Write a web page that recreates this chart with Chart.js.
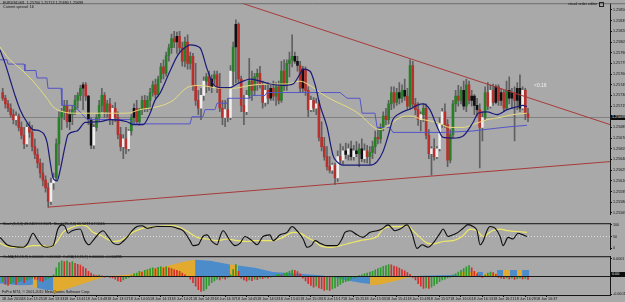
<!DOCTYPE html>
<html>
<head>
<meta charset="utf-8">
<script src="https://cdn.jsdelivr.net/npm/chart.js@4.4.1/dist/chart.umd.min.js"></script>
<style>
  html, body { margin: 0; padding: 0; background: #a9a9a9; }
  #wrap { position: relative; width: 625px; height: 302px; overflow: hidden; background: #a9a9a9;
          font-family: 'Liberation Sans', Arial, sans-serif; }
  #wrap canvas { position: absolute; left: 0; }
  .txt { position: absolute; font-size: 3.7px; line-height: 4px; color: #111; white-space: pre; }
  .box { position: absolute; left: 611px; width: 14px; height: 5px; background: #0c0c0c; color: #eee;
         font-size: 3.7px; line-height: 5px; padding-left: 1px; white-space: pre; }
  .icon { position: absolute; left: 599px; top: 2px; width: 3px; height: 3px; border: 1px solid #222; }
</style>
</head>
<body>
<div id="wrap">
  <canvas id="mainChart" width="625" height="218" style="top:0"></canvas>
  <canvas id="stochChart" width="625" height="33" style="top:220px"></canvas>
  <canvas id="osmaChart" width="625" height="49" style="top:253px"></canvas>

  <div class="txt" style="left:3px;top:1px">EURUSD,M1  1.25700 1.25713 1.25690 1.25699</div>
  <div class="txt" style="left:3px;top:5px">Current spread: 16</div>
  <div class="txt" style="left:568px;top:2px">visual order editor</div>
  <div class="icon"></div>
  <div class="txt" style="left:534px;top:83px;color:#f2f2f2;font-size:5px">&lt;0.16</div>
  <div class="box" style="top:115px">1.25699</div>
  <div class="txt" style="left:3px;top:222px">Stoch(5,3,3) 49.2409 57.8071  Stoch(25,3,3) 66.5277 67.5565</div>
  <div class="txt" style="left:3px;top:255px">OsMA(12,26,9) 0.000000 0.000002  OsMA(12,26,9) 0.000000 -0.000295</div>
  <div class="box" style="top:272px">0.00</div>
  <div class="txt" style="left:2px;top:290px">FxPro MT4, © 2001-2015 MetaQuotes Software Corp.</div>
</div>

<script>
// prices are in points (0.00001) above 1.25000, one candle per minute from 13:18
const BASE = 1.25;

const openPts = [734,726,718,712,703,696,701,685,674,662,685,678,658,647,635,621,611,600,581,607,
  614,662,699,707,716,693,703,710,723,730,740,745,729,696,660,685,699,716,730,707,
  718,696,712,699,675,658,669,655,680,699,712,693,710,723,712,723,734,745,731,753,
  770,761,786,797,810,805,813,797,778,805,775,785,744,723,712,730,750,756,742,753,
  759,740,712,699,710,699,764,798,830,753,716,707,730,750,737,756,761,745,720,737,
  726,740,729,742,723,764,744,775,780,785,778,772,740,767,737,710,723,712,718,671,
  658,644,630,625,632,614,644,639,652,647,655,644,652,648,655,641,652,644,650,658,
  671,669,685,701,696,718,734,720,734,726,737,729,715,772,718,710,696,703,712,674,
  648,655,644,655,690,707,689,639,675,718,729,723,737,715,745,723,729,716,710,685,
  699,734,715,737,720,742,723,734,712,737,726,734,723,740,712,737,704];
const highPts = [740,730,723,718,710,707,704,693,685,690,693,688,669,655,641,635,617,607,614,621,
  669,707,712,723,723,710,716,730,734,744,748,748,730,699,689,703,723,740,734,723,
  726,716,720,707,685,675,685,682,703,718,723,712,729,730,729,740,750,753,757,775,
  780,791,802,816,820,819,820,805,812,815,791,789,775,737,740,756,761,764,759,764,
  764,761,723,723,726,772,805,836,832,757,730,737,782,764,761,767,771,750,744,748,
  745,750,748,750,778,780,780,791,815,791,785,778,771,770,742,729,727,726,723,693,
  671,658,644,635,635,652,662,658,663,662,666,660,665,662,669,662,660,658,666,680,
  685,690,707,712,723,742,742,740,748,745,753,740,780,778,726,720,707,718,718,682,
  658,669,658,699,712,718,696,682,723,737,744,742,750,753,750,737,731,726,718,707,
  742,748,745,746,745,745,740,737,750,756,740,742,748,759,742,740,712];
const lowPts = [723,712,707,699,690,688,680,669,655,658,671,652,641,628,614,603,594,573,577,598,
  611,632,682,696,685,682,689,703,712,723,710,723,689,655,655,680,693,707,699,699,
  689,689,693,669,652,641,648,652,674,690,689,688,703,707,707,710,729,726,729,748,
  753,757,778,789,797,789,791,771,770,767,767,737,716,703,696,723,734,737,734,745,
  734,707,689,686,693,696,745,748,748,707,689,703,726,723,730,737,740,712,715,718,
  723,723,716,718,720,737,737,756,770,775,764,734,734,730,700,707,707,703,666,652,
  639,625,621,620,605,609,633,633,641,639,639,639,644,630,637,636,635,633,641,648,
  662,663,680,689,690,710,712,716,718,720,723,710,710,712,703,688,680,693,669,641,
  618,639,641,652,685,685,630,635,671,707,715,718,710,707,718,715,703,701,628,666,
  696,710,712,716,718,716,716,707,710,718,712,666,710,707,710,696,693];
const closePts = [726,718,712,703,696,701,685,674,662,685,678,658,647,635,621,611,600,581,607,614,
  662,699,707,716,693,703,710,723,730,740,745,729,696,660,685,699,716,730,707,718,
  696,712,699,675,658,669,655,680,699,712,693,710,723,712,723,734,745,731,753,770,
  761,786,797,810,805,813,797,778,805,775,785,744,723,712,730,750,756,742,753,759,
  740,712,699,710,699,764,798,830,753,716,707,730,750,737,756,761,745,720,737,726,
  740,729,742,723,764,744,775,780,785,778,772,740,767,737,710,723,712,718,671,658,
  644,630,625,632,614,644,639,652,647,655,644,652,648,655,641,652,644,650,658,671,
  669,685,701,696,718,734,720,734,726,737,729,715,772,718,710,696,703,712,674,648,
  655,644,655,690,707,689,639,675,718,729,723,737,715,745,723,729,716,710,685,699,
  734,715,737,720,742,723,734,712,737,726,734,723,740,712,737,704,699];
// candle paint: g green, r red, k black, w white
const candleKind = ('rrrrrwrrrw' + 'rrrrrrrrww' + 'ggggrkgggg' + 'krkkwgggrg' + 'rwrrrwrwgk' +
  'rggrgggrgg' + 'rgggrkrrgr' + 'grrrwwgrkg' + 'rrrwrwgkrr' + 'rwgrggrrwr' +
  'krgrgrgggk' + 'krkrrwrwrr' + 'rrrwrwrwkw' + 'kwkgkwrggg' + 'rggrggrgkg' +
  'krgrrrwgrr' + 'wrwwwrrggg' + 'rgkgrkkkrw' + 'grwrkrkrgk' + 'krkkwrr').split('');

// indicator lines as [bar, value]
const maFast = [[-1,794],[0.9,775],[2.7,753],[4.6,730],[6.5,710],[9.1,692],[11.3,682],[13.9,680],[16.5,665],
  [17.7,637],[18.8,614],[20.3,610],[21.4,624],[23.3,659],[24.4,675],[27.7,680],[30.8,692],[36.3,693],[40,696],
  [46.4,693],[48.6,689],[52.4,689],[55,705],[56.8,723],[58.7,733],[62.4,764],[65.4,787],[67.3,795],[69.9,801],
  [73.6,797],[76.2,768],[78.5,746],[81.1,741],[84.8,741],[87.4,746],[89.7,750],[92.3,753],[96,750],[99.7,746],
  [104.6,744],[108.3,746],[110.9,760],[112.1,767],[114.7,764],[116.5,746],[118.4,716],[121,686],[123.3,645],
  [124.7,637],[127,632],[132.2,632],[137.1,632],[139.7,637],[141.9,651],[143.8,673],[145.6,696],[148.3,705],
  [152,711],[154.6,716],[156.8,718],[159.4,710],[162.1,686],[164.3,671],[168,670],[171.8,673],[175.5,692],
  [177.4,705],[180.7,707],[184.4,703],[188.2,710],[191.9,714],[194.1,716],[195.6,714]];
const maSlow = [[-1,798],[2.7,780],[6.5,768],[11.3,750],[16.5,726],[18.8,714],[22.5,707],[27.7,705],[33.7,705],
  [40,705],[46.4,705],[51.2,710],[58.7,715],[63.6,723],[68.8,741],[73.6,744],[77.4,742],[81.1,740],[86,740],
  [92.3,744],[98.6,746],[106.1,746],[110.9,750],[114.7,744],[118.4,734],[123.3,723],[128.5,714],[133.3,703],
  [138.2,686],[140.8,682],[143.4,686],[148.3,699],[152,701],[156.8,696],[162.1,692],[166.9,685],[171.8,685],
  [175.5,689],[180.7,696],[185.6,699],[190.4,703],[195.6,705]];
const midLine = [[-1,780],[1.6,780],[2,774],[8,774],[8.3,765],[12.4,765],[12.8,754.5],[16.5,754.5],[16.9,740],
  [21.8,740],[22.1,716],[26.6,716],[31.5,696],[47.5,696],[48.6,690],[69.9,690],[70.6,700],[74.7,700],[75.5,710],
  [79.2,710],[80,719],[83.7,719],[84.1,726],[92.3,726],[93,730],[97.9,730],[98.6,734],[125.9,734],[128.5,726],
  [133.3,726],[134.1,705],[138.9,705],[139.7,685],[144.5,685],[145.6,678],[164.3,678],[175.5,680],[184.4,684],
  [189.3,686],[195.6,688]];
const trendUpper = [[88,861.1],[226.6,689]];
const trendLower = [[16.9,573],[226.6,637]];
const priceTicks = [565,580,595,610,625,640,655,670,685,700,715,730,745,760,775,790,805,820,835,850];

const stochMain = [[-1,46.5],[0.1,32.5],[1.6,15],[3.9,8],[7.6,4.5],[9.4,22],[11.3,64],[12.8,39.5],[14.7,11.5],
  [16.5,4.5],[18.8,11.5],[20.6,81.5],[22.1,99],[23.3,92],[24.4,64],[25.9,74.5],[28.9,81.5],[30.7,32.5],[32.2,15],
  [33.7,32.5],[36.3,67.5],[37.4,74.5],[39.3,50],[41.2,22],[43,15],[44.9,29],[46.4,46.5],[48.3,74.5],[50.1,92],
  [52,95.5],[53.9,85],[55.7,88.5],[57.6,92],[59.8,92],[62.4,92],[65,85],[67.3,74.5],[69.9,32.5],[71,11.5],
  [72.9,15],[74.7,50],[76.2,57],[78.1,29],[80,15],[81.1,50],[82.2,74.5],[84.8,32.5],[86.7,11.5],[88.6,22],
  [90.4,50],[93,32.5],[94.9,15],[97.1,50],[99.7,57],[100.9,32.5],[103.5,57],[106.1,67.5],[108,92],[109.8,74.5],
  [112.1,39.5],[113.6,4.5],[115.4,15],[116.5,32.5],[118.4,22],[121,11.5],[124.7,11.5],[126.6,39.5],[127.7,67.5],
  [129.6,74.5],[132.2,57],[134.4,46.5],[137.1,67.5],[139.7,74.5],[141.5,81.5],[143.8,99],[146.4,74.5],[148.3,81.5],
  [150.9,99],[152.7,64],[154.6,0],[156.5,15],[158.7,4.5],[160.6,22],[163.2,64],[164.3,81.5],[166.2,50],[168,57],
  [169.9,67.5],[171.8,85],[173.6,100],[175.5,92],[177,74.5],[178.1,15],[179.2,29],[180.7,74.5],[181.8,92],
  [183.7,85],[185.6,50],[186.7,11.5],[188.6,46.5],[190.4,39.5],[192.3,64],[194.1,57],[195.6,50]];
const stochSlow = [[-1,22],[0.9,11.5],[3.9,4.5],[7.6,4.5],[11.3,11.5],[15,11.5],[17.7,4.5],[20.3,29],[22.5,67.5],
  [25.1,85],[29.6,99],[31.5,92],[33.7,67.5],[36.3,57],[38.9,39.5],[41.2,29],[43.8,32.5],[46.4,50],[48.6,67.5],
  [52.4,85],[57.6,92],[63.6,95.5],[66.9,85],[69.9,64],[72.5,46.5],[76.2,39.5],[80,32.5],[83.7,39.5],[87.4,32.5],
  [91.2,29],[93.4,32.5],[97.1,32.5],[100.9,32.5],[104.6,46.5],[108.3,67.5],[110.9,64],[114.7,39.5],[116.5,29],
  [118.4,11.5],[122.1,4.5],[125.9,11.5],[129.6,22],[133.3,32.5],[137.1,39.5],[139.7,50],[141.9,81.5],[145.3,92],
  [148.3,92],[151.2,95.5],[153.1,74.5],[155.7,46.5],[158.3,22],[160.6,18.5],[164.3,29],[168,32.5],[171.4,50],
  [174.4,81.5],[177,74.5],[179.2,50],[182.6,74.5],[185.6,81.5],[188.2,74.5],[191.9,71],[195.6,67.5]];
const stochTicks = [0, 50, 100];

// OsMA in millionths
const osmaFast = [-30,-45,-50,-40,-35,-45,-30,-25,-35,-20,-15,
  -10,-15,-20,-25,-30,-20,-10,-5,10,
  50,80,89,85,90,80,85,75,70,65,55,45,30,20,10,
  5,8,4,-3,2,-5,-8, -15,-25,-30,-20,-12,
  -5,5,15,20,30,25,35,40,45,50,45,53,55,50,55,50,45,40,35,30,20,10,0,
  -15,-35,-55,-75,-85,-80,-70,-50,-35, -25,-15,-20,-10,-15,-5,10, 40,68,30,
  -10,-20,-26,-20,-24,-15,-18,-10, -12,-6,-10,-4,3, 8,12,10,18,22, 30,37,35,28,15,
  -10,-25,-40,-50,-60,-55,-65,-70,-79,-75,-79,-70,-65,-55,-45,-35, -30,-25,-15,-10,-5,5,10,
  15,20,25,30,38,45,50,58,62,68,66,60,55,48,40,32,22,12,
  -5,-20,-40,-55,-68,-65,-68,-60,-50,-40,-30,-20,-15,-8,-3,
  8,15,25,35,45,55,63,50,30,15, 5,-5, 10,20,26,22,12,
  -5,-10,-12,-8,-14,-10,-16,-12,-8,-14,-11,-16];
const osmaBlue = [[-1,-40],[2.7,-45],[6.5,-50],[10.2,-48],[11.3,-45],[11.4,null],
  [12.8,-65],[15.8,-75],[18.8,-80],[18.9,null],
  [71.8,95],[77.4,90],[84.8,68],[85,null],
  [87.8,63],[94.1,50],[100.9,26],[110.9,16],[118.4,8],[122.1,0],[127.7,-20],[133.3,-35],[137.1,-42],[137.2,null],
  [155.7,5],[169.5,10],[169.6,null],
  [177,26],[179.2,26],[179.3,null],
  [184.4,37],[186.7,37],[186.8,null],
  [189.3,37],[191.9,37],[192,null],
  [193.8,37],[196.5,37]];
const osmaGold = [[11.3,-63],[12.8,-63],[12.9,null],
  [19,-95],[38.2,0],[47.5,12],[53.9,35],[61.3,60],[68,85],[71.8,95],[71.9,null],
  [84.8,68],[87.8,65],[87.9,null],
  [137.1,-50],[140.8,-45],[146.4,-25],[152,-3],[155.7,3],[155.8,null],
  [169.5,26],[177,26],[177.1,null],
  [179.2,16],[184.4,16],[184.5,null],
  [186.7,37],[189.3,37],[189.4,null],
  [191.9,37],[193.8,37]];
const osmaTicks = [-100, 100];

const timeTickPos = [-0.3,7,15,23,31,39,47,55,63,71,79,87,95,103,111,119,127,135,143,151,159,167,175,183,191,199];
const timeTicks = ['18 Jun 2015','18 Jun 13:25','18 Jun 13:33','18 Jun 13:41','18 Jun 13:49','18 Jun 13:57',
  '18 Jun 14:05','18 Jun 14:13','18 Jun 14:21','18 Jun 14:29','18 Jun 14:37','18 Jun 14:45','18 Jun 14:53',
  '18 Jun 15:01','18 Jun 15:09','18 Jun 15:17','18 Jun 15:25','18 Jun 15:33','18 Jun 15:41','18 Jun 15:49',
  '18 Jun 15:57','18 Jun 16:05','18 Jun 16:13','18 Jun 16:21','18 Jun 16:29','18 Jun 16:37'];

const X_MIN = -1, X_MAX = 226.6;
const FONT = "'Liberation Sans', Arial, sans-serif";
const INK = '#151515';
const kindColor = { g: '#277f27', r: '#b8302c', k: '#101010', w: '#eeeeee' };

const toXY = arr => arr.map(([x, y]) => ({ x, y }));

const frame = {
  id: 'frame',
  afterDraw(chart, args, opts) {
    const { ctx, chartArea: a } = chart;
    ctx.save();
    ctx.strokeStyle = opts.color;
    ctx.lineWidth = 1;
    ctx.beginPath();
    ctx.moveTo(0, a.top + 0.5);
    ctx.lineTo(opts.full ? chart.width : a.right, a.top + 0.5);
    ctx.stroke();
    ctx.restore();
  }
};

function xAxis(show) {
  const axis = { type: 'linear', min: X_MIN, max: X_MAX, offset: false, display: show, grid: { display: false } };
  if (show) {
    axis.afterBuildTicks = s => { s.ticks = timeTickPos.map(v => ({ value: v })); };
    axis.afterFit = s => { s.height = 7; };
    axis.ticks = { autoSkip: false, maxRotation: 0, align: 'start', padding: 0,
      font: { size: 3.7, family: FONT }, color: INK, callback: (v, i) => timeTicks[i] };
    axis.grid = { drawOnChartArea: false, drawTicks: true, tickLength: 2, color: INK };
    axis.border = { display: true, color: INK };
  }
  return axis;
}

function rightAxis(min, max, ticks, fmt) {
  return {
    position: 'right', min, max,
    afterBuildTicks: s => { s.ticks = ticks.map(v => ({ value: v })); },
    afterFit: s => { s.width = 15; },
    ticks: { autoSkip: false, padding: 1, font: { size: 3.7, family: FONT }, color: INK, callback: fmt },
    grid: { drawOnChartArea: false, drawTicks: true, tickLength: 2, color: INK },
    border: { display: true, color: INK }
  };
}

const common = {
  responsive: false, animation: false, devicePixelRatio: 1, events: [],
  layout: { padding: 0 },
  plugins: { legend: { display: false }, tooltip: { enabled: false } }
};

const lineSet = (data, color, width, order, extra) => Object.assign({
  type: 'line', data: toXY(data), borderColor: color, borderWidth: width,
  pointRadius: 0, tension: 0, order
}, extra || {});

// main price panel
const lastClose = closePts[closePts.length - 1];
new Chart(document.getElementById('mainChart'), {
  type: 'bar',
  data: {
    datasets: [
      lineSet([[X_MIN, lastClose], [X_MAX, lastClose]], '#808080', 1, 20),
      {
        data: lowPts.map((l, i) => ({ x: i, y: [l, highPts[i]] })),
        backgroundColor: '#606060', barThickness: 1, grouped: false, order: 15
      },
      {
        data: openPts.map((o, i) => ({ x: i, y: [o, closePts[i]] })),
        backgroundColor: candleKind.map(k => kindColor[k]),
        barThickness: 2, grouped: false, order: 12
      },
      lineSet(midLine, '#5555c8', 1, 10),
      lineSet(maSlow, '#e4dc80', 1, 9, { cubicInterpolationMode: 'monotone' }),
      lineSet(maFast, '#1a1a78', 1.2, 8, { cubicInterpolationMode: 'monotone' }),
      lineSet(trendUpper, '#a83a38', 1, 5),
      lineSet(trendLower, '#a83a38', 1, 5)
    ]
  },
  options: Object.assign({}, common, {
    scales: {
      x: xAxis(false),
      y: rightAxis(562.3, 859.5, priceTicks, v => (BASE + v / 1e5).toFixed(5))
    },
    plugins: Object.assign({}, common.plugins, { frame: { color: '#6c6c6c', full: true } })
  }),
  plugins: [frame]
});

// stochastic panel
new Chart(document.getElementById('stochChart'), {
  type: 'line',
  data: {
    datasets: [
      lineSet([[X_MIN, 50], [X_MAX, 50]], '#dcdcdc', 1, 10, { borderDash: [1, 2] }),
      lineSet(stochSlow, '#efe866', 1.2, 6, { cubicInterpolationMode: 'monotone' }),
      lineSet(stochMain, '#0d0d0d', 1.1, 5, { cubicInterpolationMode: 'monotone' })
    ]
  },
  options: Object.assign({}, common, {
    scales: { x: xAxis(false), y: rightAxis(-6, 106, stochTicks, v => String(v)) },
    plugins: Object.assign({}, common.plugins, { frame: { color: '#101010' } })
  }),
  plugins: [frame]
});

// OsMA panel
new Chart(document.getElementById('osmaChart'), {
  type: 'bar',
  data: {
    datasets: [
      lineSet([[X_MIN, 0], [X_MAX, 0]], '#1a1a1a', 1, 1),
      lineSet(osmaBlue, 'rgba(0,0,0,0)', 0, 12, { fill: 'origin', backgroundColor: '#4d8ccb' }),
      lineSet(osmaGold, 'rgba(0,0,0,0)', 0, 11, { fill: 'origin', backgroundColor: '#e3aa30' }),
      {
        data: osmaFast.map((v, i) => ({ x: i, y: v })),
        backgroundColor: osmaFast.map((v, i) => (i > 0 && v < osmaFast[i - 1]) ? '#d3302c' : '#2c9a2c'),
        barThickness: 1, grouped: false, order: 3
      }
    ]
  },
  options: Object.assign({}, common, {
    scales: { x: xAxis(true), y: rightAxis(-105.3, 115.8, osmaTicks, v => (v / 1e6).toFixed(4)) },
    plugins: Object.assign({}, common.plugins, { frame: { color: '#101010' } })
  }),
  plugins: [frame]
});
</script>
</body>
</html>
